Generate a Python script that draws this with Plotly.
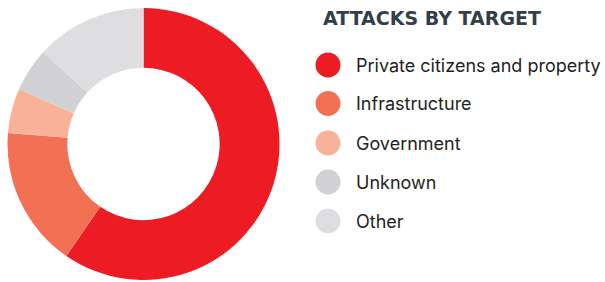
import plotly.graph_objects as go

categories = ["Private citizens and property", "Infrastructure", "Government", "Unknown", "Other"]
values = [59.6, 16.7, 5.3, 5.2, 13.2]
colors = ["#ED1C24", "#F27054", "#F9B199", "#D1D1D3", "#DEDEE0"]
title_text = "ATTACKS BY TARGET"

W, H = 605, 282

fig = go.Figure()
fig.add_trace(go.Pie(
    labels=categories, values=values, hole=0.56, sort=False, direction="clockwise",
    rotation=0, marker=dict(colors=colors, line=dict(width=0)), textinfo="none",
    hoverinfo="label+percent", showlegend=False,
    domain=dict(x=[7 / W, 280 / W], y=[2 / H, 274 / H]),
))

# Custom legend
leg_y = [65, 103.5, 143, 182, 221]
fig.add_trace(go.Scatter(
    x=[328] * len(categories), y=leg_y, mode="markers",
    marker=dict(size=25, color=colors, line=dict(width=0)),
    xaxis="x", yaxis="y", showlegend=False, hoverinfo="skip",
))
for name, y in zip(categories, leg_y):
    fig.add_annotation(x=354, y=y, xref="x", yref="y", text=name, showarrow=False,
                       xanchor="left", yanchor="middle",
                       font=dict(family="Inter", size=18, color="#231F20"))
fig.add_annotation(x=321, y=18, xref="x", yref="y", text="<b>" + title_text + "</b>",
                   showarrow=False, xanchor="left", yanchor="middle",
                   font=dict(family="DejaVu Sans", size=19, color="#333F48"))

fig.update_layout(
    width=W, height=H, margin=dict(l=0, r=0, t=0, b=0),
    paper_bgcolor="white", plot_bgcolor="rgba(0,0,0,0)",
    xaxis=dict(domain=[300 / W, 1], range=[300, 605], visible=False, fixedrange=True),
    yaxis=dict(domain=[0, 1], range=[282, 0], visible=False, fixedrange=True),
)
fig.write_html("out.html", config={"displayModeBar": False},
               post_script="document.body.style.margin='0';")
